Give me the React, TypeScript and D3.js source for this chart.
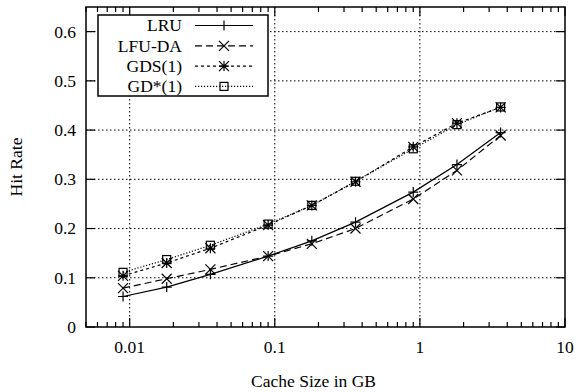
import React from "react";
import * as d3 from "d3";

// cache sizes in GB
const cacheSizes = [0.009, 0.018, 0.036, 0.09, 0.18, 0.36, 0.9, 1.8, 3.6];

const lruValues = [0.062, 0.081, 0.107, 0.144, 0.175, 0.213, 0.274, 0.33, 0.395];
const lfuDaValues = [0.079, 0.098, 0.117, 0.144, 0.169, 0.2, 0.26, 0.318, 0.389];
const gdsValues = [0.104, 0.13, 0.16, 0.207, 0.247, 0.295, 0.366, 0.414, 0.446];
const gdStarValues = [0.111, 0.137, 0.166, 0.209, 0.247, 0.296, 0.362, 0.411, 0.447];

const seriesNames = ["LRU", "LFU-DA", "GDS(1)", "GD*(1)"];
const xTickLabels = ["0.01", "0.1", "1", "10"];
const yTickLabels = ["0", "0.1", "0.2", "0.3", "0.4", "0.5", "0.6"];

const W = 576;
const H = 392;
const FONT = "Liberation Serif, Tinos, Times New Roman, Times, serif";

type Marker = "plus" | "cross" | "star" | "box";

const Mark: React.FC<{ kind: Marker; x: number; y: number }> = ({ kind, x, y }) => {
  const s = 5;
  const plus = `M${x - s},${y}H${x + s}M${x},${y - s}V${y + s}`;
  const cross = `M${x - s},${y - s}L${x + s},${y + s}M${x - s},${y + s}L${x + s},${y - s}`;
  if (kind === "box") {
    return <rect x={x - 4} y={y - 4} width={8} height={8} fill="none" stroke="#000" strokeWidth={1.2} />;
  }
  const d = kind === "plus" ? plus : kind === "cross" ? cross : plus + cross;
  return <path d={d} stroke="#000" strokeWidth={1.2} fill="none" />;
};

export default function App() {
  const left = 86;
  const right = 565;
  const top = 7;
  const bottom = 327;

  const x = d3.scaleLog().domain([0.005, 10]).range([left, right]);
  const y = d3.scaleLinear().domain([0, 0.65]).range([bottom, top]);

  const series = [
    { name: seriesNames[0], values: lruValues, dash: "none", marker: "plus" as Marker },
    { name: seriesNames[1], values: lfuDaValues, dash: "7,4", marker: "cross" as Marker },
    { name: seriesNames[2], values: gdsValues, dash: "3,3", marker: "star" as Marker },
    { name: seriesNames[3], values: gdStarValues, dash: "1.2,1.8", marker: "box" as Marker },
  ];

  const line = d3
    .line<number>()
    .x((_, i) => x(cacheSizes[i]))
    .y((d) => y(d));

  const majorX = xTickLabels.map(Number);
  const minorX: number[] = [];
  for (let e = -3; e <= 0; e++) {
    for (let m = 2; m <= 9; m++) {
      const v = m * Math.pow(10, e);
      if (v >= 0.005 && v <= 10) minorX.push(v);
    }
  }
  const yTicks = yTickLabels.map(Number);

  // legend
  const lgX0 = 98;
  const lgX1 = 268;
  const lgY0 = 15;
  const lgY1 = 96;
  const rowH = 20.3;
  const lgRow0 = 25.5;

  return (
    <svg
      width={W}
      height={H}
      style={{ position: "absolute", left: 0, top: 0, background: "#fff", fontFamily: FONT, fontSize: "17.5px" }}
    >
      <rect width={W} height={H} fill="#fff" />

      {/* grid */}
      {majorX
        .filter((v) => v > 0.005 && v < 10)
        .map((v) => (
          <line key={`gx${v}`} x1={x(v)} x2={x(v)} y1={top} y2={bottom} stroke="#000" strokeWidth={1} strokeDasharray="1.5,2.5" />
        ))}
      {yTicks
        .filter((v) => v > 0)
        .map((v) => (
          <line key={`gy${v}`} x1={left} x2={right} y1={y(v)} y2={y(v)} stroke="#000" strokeWidth={1} strokeDasharray="1.5,2.5" />
        ))}

      {/* ticks */}
      {yTicks.map((v) => (
        <g key={`ty${v}`}>
          <line x1={left} x2={left + 9} y1={y(v)} y2={y(v)} stroke="#000" strokeWidth={1.2} />
          <line x1={right} x2={right - 9} y1={y(v)} y2={y(v)} stroke="#000" strokeWidth={1.2} />
        </g>
      ))}
      {majorX.map((v) => (
        <g key={`tx${v}`}>
          <line x1={x(v)} x2={x(v)} y1={bottom} y2={bottom - 9} stroke="#000" strokeWidth={1.2} />
          <line x1={x(v)} x2={x(v)} y1={top} y2={top + 9} stroke="#000" strokeWidth={1.2} />
        </g>
      ))}
      {minorX.map((v) => (
        <g key={`mx${v}`}>
          <line x1={x(v)} x2={x(v)} y1={bottom} y2={bottom - 5} stroke="#000" strokeWidth={1.2} />
          <line x1={x(v)} x2={x(v)} y1={top} y2={top + 5} stroke="#000" strokeWidth={1.2} />
        </g>
      ))}

      {/* tick labels */}
      {yTickLabels.map((t, i) => (
        <text key={`ly${t}`} x={left - 10} y={y(yTicks[i])} dy="0.34em" textAnchor="end">
          {t}
        </text>
      ))}
      {xTickLabels.map((t, i) => (
        <text key={`lx${t}`} x={x(majorX[i])} y={353} textAnchor="middle">
          {t}
        </text>
      ))}

      <text x={left + (right - left) / 2 - 12} y={387} textAnchor="middle">
        Cache Size in GB
      </text>
      <text transform={`translate(22,${(top + bottom) / 2}) rotate(-90)`} textAnchor="middle">
        Hit Rate
      </text>

      {/* series */}
      {series.map((s) => (
        <g key={s.name}>
          <path d={line(s.values) ?? ""} fill="none" stroke="#000" strokeWidth={1.2} strokeDasharray={s.dash} />
          {s.values.map((v, i) => (
            <Mark key={i} kind={s.marker} x={x(cacheSizes[i])} y={y(v)} />
          ))}
        </g>
      ))}

      {/* legend */}
      <rect x={lgX0} y={lgY0} width={lgX1 - lgX0} height={lgY1 - lgY0} fill="#fff" stroke="#000" strokeWidth={1.5} />
      {series.map((s, i) => {
        const ry = lgRow0 + i * rowH;
        return (
          <g key={`lg${s.name}`}>
            <text x={182} y={ry} dy="0.34em" textAnchor="end">
              {s.name}
            </text>
            <line x1={195} x2={253} y1={ry} y2={ry} stroke="#000" strokeWidth={1.2} strokeDasharray={s.dash} />
            <Mark kind={s.marker} x={224} y={ry} />
          </g>
        );
      })}

      {/* frame */}
      <rect x={left} y={top} width={right - left} height={bottom - top} fill="none" stroke="#000" strokeWidth={1.5} />
    </svg>
  );
}
